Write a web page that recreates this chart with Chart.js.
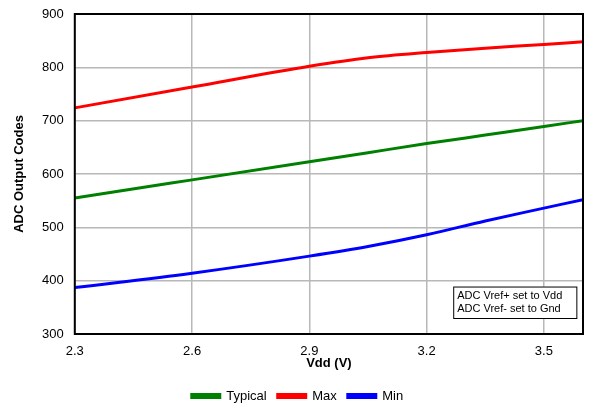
<!DOCTYPE html>
<html>
<head>
<meta charset="utf-8">
<script src="https://cdn.jsdelivr.net/npm/chart.js@4/dist/chart.umd.min.js"></script>
<style>
  html, body { margin: 0; padding: 0; background: #fff; }
  #wrap { width: 598px; height: 406px; }
</style>
</head>
<body>
<div id="wrap"><canvas id="adcChart"></canvas></div>
<script>
// values
const vdd = [2.3, 2.6, 2.9, 3.05, 3.2, 3.35, 3.5, 3.6];
const typical = [555, 589, 623, 640, 657, 673, 689, 700];
const maxCodes = [724, 763, 802, 818, 828, 836, 843, 848];
const minCodes = [387, 414, 446, 464, 486, 512, 536, 552];
const xTicks = [2.3, 2.6, 2.9, 3.2, 3.5];
const yTicks = [300, 400, 500, 600, 700, 800, 900];
const noteLines = ['ADC Vref+ set to Vdd', 'ADC Vref- set to Gnd'];

function toPoints(ys) {
    return vdd.map((x, i) => ({ x: x, y: ys[i] }));
}

const FONT = 'Arial, "Liberation Sans", sans-serif';

// black frame round the plot + the note box
const framePlugin = {
    id: 'frame',
    afterDatasetsDraw(chart) {
        const { ctx, chartArea: a, scales } = chart;
        ctx.save();
        ctx.strokeStyle = '#000';
        ctx.lineWidth = 2;
        ctx.strokeRect(a.left, a.top, a.right - a.left, a.bottom - a.top);

        // note box, anchored to data coordinates
        const x0 = scales.x.getPixelForValue(3.268);
        const x1 = scales.x.getPixelForValue(3.583);
        const y0 = scales.y.getPixelForValue(389);
        const y1 = scales.y.getPixelForValue(330);
        ctx.fillStyle = '#fff';
        ctx.fillRect(x0, y0, x1 - x0, y1 - y0);
        ctx.lineWidth = 1;
        ctx.strokeRect(x0 + 0.5, y0 + 0.5, x1 - x0, y1 - y0);
        ctx.fillStyle = '#000';
        ctx.font = '11px ' + FONT;
        ctx.textBaseline = 'middle';
        ctx.textAlign = 'left';
        ctx.fillText(noteLines[0], x0 + 4, y0 + 9);
        ctx.fillText(noteLines[1], x0 + 4, y0 + 22);
        ctx.restore();
    }
};

const ctx = document.getElementById('adcChart').getContext('2d');
const chart = new Chart(ctx, {
    type: 'line',
    data: {
        datasets: [
            { label: 'Typical', data: toPoints(typical), borderColor: '#008000', backgroundColor: '#008000' },
            { label: 'Max', data: toPoints(maxCodes), borderColor: '#ff0000', backgroundColor: '#ff0000' },
            { label: 'Min', data: toPoints(minCodes), borderColor: '#0000ff', backgroundColor: '#0000ff' }
        ]
    },
    options: {
        responsive: true,
        maintainAspectRatio: false,
        animation: false,
        layout: { padding: { left: 12, right: 15, top: 14, bottom: -6.5 } },
        elements: {
            line: { borderWidth: 3, cubicInterpolationMode: 'monotone', fill: false },
            point: { radius: 0, hoverRadius: 0 }
        },
        scales: {
            x: {
                type: 'linear',
                min: 2.3,
                max: 3.6,
                afterBuildTicks(scale) { scale.ticks = xTicks.map(v => ({ value: v })); },
                afterFit(scale) { scale.height = 44.5; },
                ticks: {
                    color: '#000',
                    font: { family: FONT, size: 13 },
                    padding: 10,
                    maxRotation: 0,
                    callback: v => Number(v).toFixed(1)
                },
                grid: { color: '#b8b8b8', lineWidth: 1.5, drawTicks: false },
                border: { display: false },
                title: {
                    display: true,
                    text: 'Vdd (V)',
                    color: '#000',
                    font: { family: FONT, size: 13, weight: 'bold' },
                    padding: { top: 0, bottom: 7.5 }
                }
            },
            y: {
                min: 300,
                max: 900,
                afterBuildTicks(scale) { scale.ticks = yTicks.map(v => ({ value: v })); },
                afterFit(scale) { scale.paddingTop = 0; scale.paddingBottom = 0; },
                ticks: {
                    color: '#000',
                    font: { family: FONT, size: 13 },
                    padding: 11
                },
                grid: { color: '#b8b8b8', lineWidth: 1.5, drawTicks: false },
                border: { display: false },
                title: {
                    display: true,
                    text: 'ADC Output Codes',
                    color: '#000',
                    font: { family: FONT, size: 13, weight: 'bold' },
                    padding: { top: 0, bottom: 3.5 }
                }
            }
        },
        plugins: {
            legend: {
                position: 'bottom',
                labels: {
                    color: '#000',
                    font: { family: FONT, size: 13 },
                    boxWidth: 28,
                    boxHeight: 3,
                    padding: 11
                }
            },
            tooltip: { enabled: false }
        }
    },
    plugins: [framePlugin]
});
</script>
</body>
</html>
